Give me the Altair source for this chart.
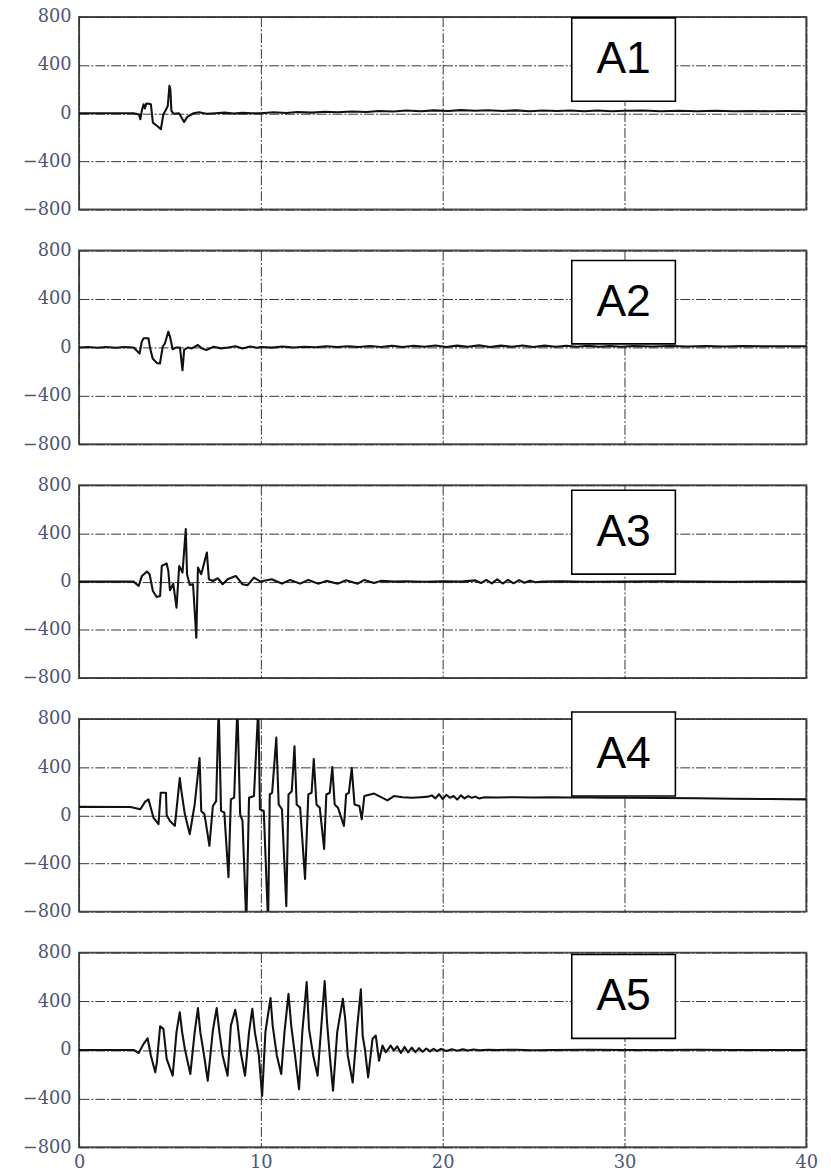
import altair as alt
import pandas as pd

# ---------------- data ----------------
panel_names = ["A1", "A2", "A3", "A4", "A5"]
x_ticks = [0, 10, 20, 30, 40]
y_ticks = [-800, -400, 0, 400, 800]

t1 = [0, 3.0, 3.3, 3.37, 3.45, 3.55, 3.62, 3.7, 3.77, 3.95, 4.06, 4.3, 4.5, 4.64, 4.75, 4.88,
      4.97, 5.02, 5.08, 5.2, 5.5, 5.78, 5.95, 6.3, 6.6, 7.0, 7.5, 8.0, 8.5, 9.0, 9.5,
      10, 10.7, 11.4, 12, 12.8, 13.5, 14.2, 15, 15.8, 16.5, 17.3, 18, 18.8, 19.5, 20.3, 21,
      21.8, 22.5, 23.3, 24, 24.8, 25.5, 26.3, 27, 27.8, 28.5, 29.3, 30, 31, 32, 33, 34, 35,
      36, 37, 38, 39, 40]
v1 = [0, 0, -10, -50, 20, 75, 40, 80, 80, 75, -78, -106, -133, -8, 20, 60,
      228, 200, 20, -5, 0, -72, -30, 0, 8, -5, 0, 5, -3, 3, 0,
      0, 8, 2, 10, 5, 12, 8, 15, 10, 18, 14, 22, 16, 24, 18, 26,
      20, 25, 18, 24, 17, 23, 18, 22, 16, 22, 17, 20, 22, 17, 21, 16, 20,
      17, 19, 16, 18, 17]

t2 = [0, 0.5, 1, 1.5, 2, 2.5, 3.0, 3.33, 3.45, 3.55, 3.82, 3.9, 4.05, 4.27, 4.45, 4.6, 4.72,
      4.91, 5.0, 5.15, 5.35, 5.55, 5.69, 5.78, 6.0, 6.2, 6.54, 6.75, 7.0, 7.4, 7.8, 8.2, 8.6,
      9.0, 9.4, 9.8,
      10, 10.6, 11.2, 11.8, 12.4, 13, 13.6, 14.2, 14.8, 15.4, 16, 16.6, 17.2, 17.8, 18.4, 19,
      19.6, 20.2, 20.8, 21.4, 22, 22.6, 23.2, 23.8, 24.4, 25, 25.6, 26.2, 26.8, 27.4, 28, 28.6,
      29.2, 29.8, 30.5, 31.5, 32.5, 33.5, 34.5, 35.5, 36.5, 37.5, 38.5, 39.5, 40]
v2 = [0, 3, -3, 3, -3, 3, 0, -50, 47, 75, 75, 0, -92, -128, -133, 5, 33,
      130, 90, -15, 0, 0, -189, -20, 0, -8, 20, -8, -22, 5, -8, 0, 10,
      -8, 8, -3,
      4, -2, 7, 0, 6, 2, 9, 3, 10, 3, 11, 4, 13, 4, 14, 6,
      16, 4, 15, 5, 17, 4, 15, 5, 16, 4, 15, 6, 14, 5, 13, 6,
      12, 6, 11, 8, 12, 8, 11, 8, 11, 9, 10, 9, 9]

t3 = [0, 3.0, 3.28, 3.46, 3.73, 3.88, 4.06, 4.27, 4.46, 4.55, 4.82, 4.91, 5.0, 5.18, 5.36,
      5.51, 5.69, 5.87, 5.94, 6.09, 6.27, 6.45, 6.54, 6.72, 7.03, 7.14, 7.36, 7.63, 7.9, 8.17,
      8.62, 8.99, 9.26, 9.62, 9.98, 10.6, 11.16, 11.61, 12.16, 12.61, 13.15, 13.61, 14.24,
      14.69, 15.33, 15.69, 16.23, 16.6, 17.3,
      18, 19, 20, 21, 21.8, 22.1, 22.4, 22.7, 23.0, 23.3, 23.6, 23.9, 24.2, 24.5, 24.8, 25.1,
      25.5, 26.5, 28, 30, 32, 34, 36, 38, 40]
v3 = [0, 0, -36, 47, 83, 61, -78, -128, -120, 130, 150, 89, -72, -17, -217,
      130, 75, 436, 61, -28, -22, -467, 117, 61, 242, 20, 5, 28, -22, 20,
      47, -22, -30, 33, 0, 20, -17, 14, -17, 14, -17, 6, -17,
      11, -17, 14, -11, 6, 0,
      3, -2, 2, 0, 10, -12, 15, -15, 18, -16, 15, -14, 12, -10, 8, -5,
      0, 2, -2, 0, 2, 0, -2, 0, 0]

t4 = [0, 2.83, 3.37, 3.64, 3.82, 4.09, 4.37, 4.49, 4.78, 4.82, 5.0, 5.27, 5.54, 5.63, 5.82,
      6.09, 6.36, 6.63, 6.72, 6.9, 7.17, 7.36, 7.54, 7.68, 7.81, 7.99, 8.22, 8.35, 8.53, 8.71,
      8.86, 8.99, 9.2, 9.35, 9.62, 9.86, 9.95, 10.16, 10.4, 10.49, 10.62, 10.85, 10.98, 11.16,
      11.4, 11.52, 11.7, 11.85, 11.97, 12.16, 12.43, 12.61, 12.79, 12.91, 13.06, 13.24, 13.48,
      13.6, 13.79, 13.93, 14.06, 14.24, 14.57, 14.69, 14.84, 15.0, 15.15, 15.42, 15.55, 15.69,
      16.23, 16.96, 17.32,
      17.8, 18.3, 18.8, 19.2, 19.4, 19.6, 19.8, 20.0, 20.2, 20.4, 20.6, 20.8, 21.0, 21.2, 21.4,
      21.6, 21.8, 22.0, 22.3, 23, 24, 25, 26, 27, 28, 29, 30, 32, 34, 36, 38, 40]
v4 = [70, 69, 50, 113, 132, -19, -74, 187, 187, 0, -47, -88, 310, 200, 8,
      -157, 90, 475, 36, 8, -253, 77, 118, 900, 36, 22, -514, 132, 146, 900,
      8, -47, -900, 146, 160, 900, 50, 36, -900, 173, 187, 646, 90, 50,
      -756, 173, 200, 572, 90, 63, -528, 173, 187, 467, 90, 63, -280,
      173, 187, 400, 90, 63, -88, 173, 187, 393, 90, 77, -33, 160,
      180, 124, 160,
      150, 145, 150, 155, 165, 140, 175, 135, 170, 145, 160, 130, 165, 140, 160,
      145, 155, 140, 150, 148, 150, 148, 150, 147, 148, 146, 146, 144, 141, 138, 135, 132]

t5 = [0, 3.0, 3.28, 3.55, 3.77, 3.95, 4.19, 4.28, 4.46, 4.64, 4.82, 5.15, 5.36, 5.54, 5.67,
      5.82, 6.12, 6.36, 6.54, 6.67, 6.85, 7.08, 7.36, 7.57, 7.72, 7.9, 8.17, 8.35, 8.59, 8.71,
      8.89, 9.13, 9.35, 9.53, 9.67, 9.89, 10.07, 10.25, 10.53, 10.65, 10.88, 11.12, 11.3,
      11.52, 11.67, 11.88, 12.1, 12.28, 12.52, 12.65, 12.88, 13.12, 13.3, 13.51, 13.64, 13.79,
      13.97, 14.2, 14.51, 14.64, 14.78, 15.05, 15.29, 15.5, 15.6, 15.72, 15.9, 16.14, 16.32,
      16.5, 16.69, 16.87, 17.14, 17.32,
      17.5, 17.7, 17.9, 18.1, 18.3, 18.5, 18.7, 18.9, 19.1, 19.3, 19.5, 19.7, 19.9, 20.2, 20.5,
      20.8, 21.1, 21.4, 21.7, 22, 22.5, 23, 24, 25, 26, 28, 30, 32, 34, 36, 38, 40]
v5 = [0, 0, -25, 50, 96, -46, -184, -102, 195, 173, -74, -212, 146, 310, 146,
      8, -198, 146, 344, 146, -19, -253, 160, 344, 146, -47, -212, 200, 330, 228,
      -19, -212, 146, 338, 146, -47, -377, 146, 426, 200, -47, -198, 146,
      462, 200, -47, -322, 146, 558, 173, -47, -212, 146, 566, 228, -47,
      -335, 146, 420, 255, -47, -267, 173, 498, 118, 8, -225, 91, 118,
      -88, 36, -19, 36, -5,
      30, -25, 25, -20, 20, -18, 15, -15, 12, -12, 10, -10, 8, -8, 6,
      -6, 5, -5, 4, -3, 2, 0, 2, -2, 0, 2, 0, 0, 2, 0, 0, 0]

series = [(t1, v1), (t2, v2), (t3, v3), (t4, v4), (t5, v5)]

# label boxes (data units: box top / bottom in each panel)
box_top = [792, 718, 759, 857, 784]
box_bottom = [99, 29, 62, 160, 95]
BOX_X0, BOX_X1 = 27.1, 32.8

# ---------------- styling ----------------
SERIF = "DejaVu Serif"
LABEL_COLOR = "#4c5677"
PANEL_W = 736
PANEL_H = [195, 196, 195, 195, 197]

xscale = alt.Scale(domain=[0, 40], nice=False, zero=False)
yscale = alt.Scale(domain=[-800, 800], nice=False)


def make_panel(i):
    name = panel_names[i]
    t, v = series[i]
    bottom = i == len(panel_names) - 1
    df = pd.DataFrame({"t": t, "v": v})

    x_axis = alt.Axis(values=x_ticks, grid=True, labels=bottom, ticks=False, domain=False,
                      title=None, labelFlush=False, labelPadding=6)
    y_axis = alt.Axis(values=y_ticks, grid=True, ticks=False, domain=False, title=None,
                      labelPadding=8)

    line = alt.Chart(df).mark_line(color="#111111", strokeWidth=2.1, clip=True,
                                   strokeJoin="round").encode(
        x=alt.X("t:Q", scale=xscale, axis=x_axis),
        y=alt.Y("v:Q", scale=yscale, axis=y_axis),
    )

    bdf = pd.DataFrame({
        "x0": [BOX_X0], "x1": [BOX_X1],
        "y0": [box_bottom[i]], "y1": [box_top[i]],
        "xc": [(BOX_X0 + BOX_X1) / 2], "yc": [(box_top[i] + box_bottom[i]) / 2],
        "label": [name],
    })
    rect = alt.Chart(bdf).mark_rect(fill="white", stroke="black", strokeWidth=1.6).encode(
        x=alt.X("x0:Q", scale=xscale, axis=x_axis), x2="x1",
        y=alt.Y("y0:Q", scale=yscale, axis=y_axis), y2="y1",
    )
    text = alt.Chart(bdf).mark_text(font="Liberation Sans", fontSize=45, color="black",
                                    baseline="middle", align="center").encode(
        x=alt.X("xc:Q", scale=xscale, axis=x_axis),
        y=alt.Y("yc:Q", scale=yscale, axis=y_axis),
        text="label:N",
    )
    return alt.layer(line, rect, text).properties(width=PANEL_W, height=PANEL_H[i])


chart = alt.vconcat(*[make_panel(i) for i in range(5)], spacing=21.5).properties(
    padding={"left": 21, "top": 0, "right": 12, "bottom": 0},
    background="white",
).configure_view(
    stroke="#4d4d4d", strokeWidth=2
).configure_axis(
    gridColor="#333333", gridDash=[10, 2, 2, 2], gridWidth=1, gridOpacity=1,
    labelFont=SERIF, labelFontSize=18, labelColor=LABEL_COLOR,
)

chart.save("out.html", embed_options={"renderer": "svg", "actions": False})
